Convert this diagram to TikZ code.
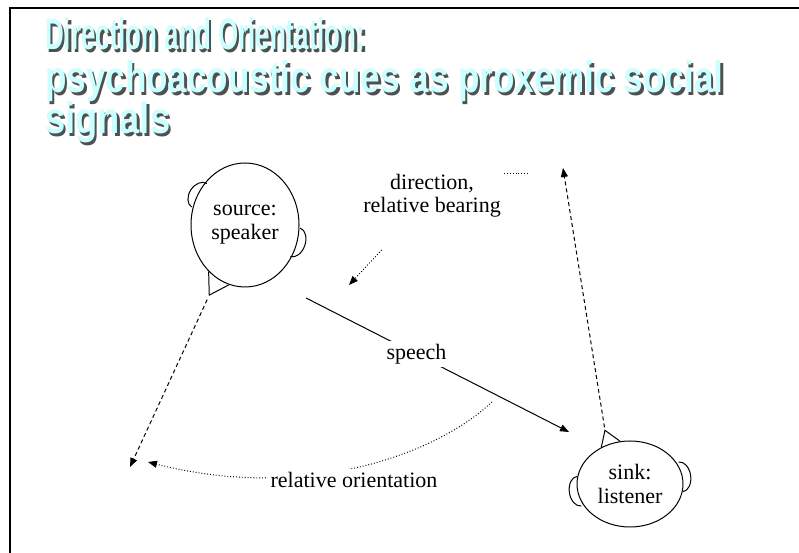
\documentclass[tikz,border=0pt]{standalone}
\usepackage{fontspec}
\setmainfont{Liberation Serif}
\newfontfamily\titlefont{Liberation Sans}
\usetikzlibrary{shapes.geometric,arrows.meta,calc}
\definecolor{titlecyan}{HTML}{CCFFFF}
\definecolor{titleshade}{HTML}{505050}

\tikzset{
  head/.style={draw, ellipse, line width=1pt, inner sep=0pt, align=center, font=\fontsize{22}{24}\selectfont},
  cue/.style={fill=white, inner sep=3pt, align=center, font=\fontsize{22}{23}\selectfont},
  facing/.style={line width=1pt, dash pattern=on 4pt off 3pt, -{Triangle[length=9pt,width=7pt]}},
  dotline/.style={line width=1pt, dash pattern=on 0.9pt off 2pt},
  bearing/.style={dotline, -{Triangle[length=9pt,width=7pt]}},
  talk/.style={line width=1pt, -{Triangle[length=9pt,width=7pt]}},
}

% ear on the border of a head node: node, angle, half length
\newcommand{\headear}[3]{%
  \begin{scope}[shift={(#1.#2)}, rotate=#2]
    \draw [line width=1pt] (-2,-#3) arc (-90:90:10 and #3);%
  \end{scope}}

% title line with its shadow: name, x, baseline, width, text
\newcommand{\titletext}[2]{\resizebox{#1}{32pt}{\titlefont\bfseries #2}}
\newcommand{\titleline}[5]{%
  \node [anchor=base west, inner sep=0pt] (#1) at (#2,#3)
    {\rlap{\hspace{2.5pt}\raisebox{-2.5pt}{\color{titleshade}\titletext{#4}{#5}}}{\color{titlecyan}\titletext{#4}{#5}}};}

\begin{document}
\begin{tikzpicture}[x=1pt,y=1pt]
  \useasboundingbox (0,0) rectangle (799,553);

  % Drawing frame
  \draw [line width=2.5pt] (10,0) -- (10,545) -- (799,545);%

  % Drawing title
  \titleline{titleA}{45}{503}{320pt}{Direction and Orientation:}
  \titleline{titleB}{45}{460}{678pt}{psychoacoustic cues as proxemic social}
  \titleline{titleC}{45}{419}{125pt}{signals}

  % Drawing head S (speaker)
  \node [head, minimum width=108pt, minimum height=124pt] (spk) at (245,328) {source:\\speaker};
  \headear{spk}{147}{14}
  \headear{spk}{341}{15}
  \coordinate (spknose) at ($(spk.center)!1.3!(spk.243)$);
  \draw [line width=1pt] (spk.232) -- (spknose) -- (spk.255);%

  % Drawing head L (listener)
  \node [head, minimum width=106pt, minimum height=86pt] (lis) at (630,69) {sink:\\listener};
  \headear{lis}{188}{15}
  \headear{lis}{8}{15}
  \coordinate (lisnose) at ($(lis.center)!1.32!(lis.115)$);
  \draw [line width=1pt] (lis.103) -- (lisnose) -- (lis.128);%

  % Drawing facing lines
  \coordinate (spkgaze) at (130,86);
  \coordinate (lisgaze) at (563,385);
  \draw [facing, shorten <=5pt] (spknose) -- (spkgaze);%
  \draw [facing, shorten <=3pt] (lisnose) -- (lisgaze);%

  % Drawing segment speech
  \coordinate (talkfrom) at (306,255);
  \coordinate (talkto) at (569,121);
  \draw [talk] (talkfrom) -- node [cue, pos=0.42] (speechlbl) {speech} (talkto);%

  % Drawing bearing cue
  \node [cue] (dirlbl) at (432,357) {direction,\\relative bearing};
  \coordinate (dirfrom) at (528,379);
  \coordinate (dirto) at (349,268);
  \draw [dotline] (dirfrom) -- (dirfrom -| dirlbl.east);%
  \draw [bearing, shorten <=40pt] (dirlbl) -- (dirto);%

  % Drawing orientation cue
  \coordinate (orifrom) at (492,151);
  \coordinate (orito) at (148,91);
  \draw [bearing] (orifrom) .. controls (432,95) and (300,52) .. (orito);%
  \node [cue] (orilbl) at (354,73) {relative orientation};
\end{tikzpicture}
\end{document}
